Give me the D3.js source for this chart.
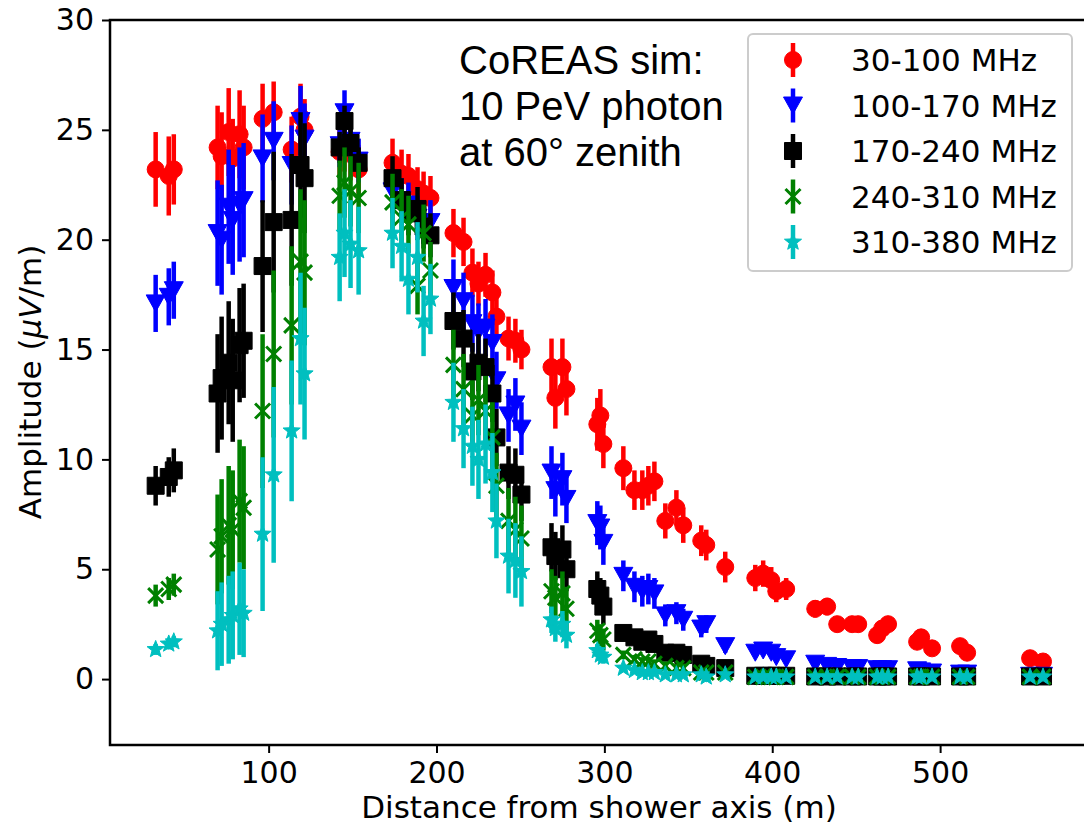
<!DOCTYPE html>
<html>
<head>
<meta charset="utf-8">
<script src="https://cdn.jsdelivr.net/npm/d3@7"></script>
<style>
body { margin: 0; background: #fff; }
svg { display: block; }
</style>
</head>
<body>
<div id="chart"></div>
<script>
// antenna distances from the shower axis (m), shared by all bands
var distances = [
    32.7, 40.5, 43.5,
    69.6, 72.0, 76.2, 78.6, 82.7, 85.1,
    96.4, 103.0, 113.7, 119.0, 121.4,
    142.3, 145.2, 148.8, 153.6,
    173.8, 179.2, 183.3, 188.7, 192.3, 196.4,
    210.1, 216.1, 221.4, 225.0, 229.2, 233.3, 235.7, 242.9, 247.0, 250.6,
    268.5, 270.8, 275.0, 277.4,
    295.8, 297.6, 299.4,
    311.3, 317.9, 322.6, 326.2, 329.8, 336.3, 342.9, 347.0, 357.7, 360.7,
    372.0,
    389.9, 394.6, 399.4, 402.4, 408.3,
    425.6, 432.7, 438.7, 447.6, 451.2, 462.5, 465.5, 469.0, 486.3, 488.7, 495.2, 511.9, 516.1, 553.6, 561.3
];

var amp30_100 = [
    23.2, 22.9, 23.2,
    24.2, 23.8, 24.9, 23.7, 24.8, 24.2,
    25.5, 25.8, 24.1, 25.6, 25.0,
    24.0, 24.2, 23.9, 23.2,
    23.5, 23.0, 22.9, 22.3, 22.1, 21.9,
    20.3, 19.9, 18.5, 18.0, 18.4, 17.6, 16.5, 15.5, 15.4, 15.0,
    14.2, 12.8, 14.2, 13.2,
    11.6, 12.0, 10.7,
    9.6, 8.6, 8.6, 8.8, 9.0, 7.2, 7.8, 7.0, 6.3, 6.1,
    5.1,
    4.6, 4.8, 4.5, 4.0, 4.1,
    3.2, 3.3, 2.5, 2.5, 2.5, 2.0, 2.3, 2.5, 1.7, 1.9, 1.4, 1.5, 1.2, 0.95, 0.8
];
var err30_100 = [
    1.7, 1.8, 1.6,
    1.9, 2.0, 2.0, 1.8, 2.0, 1.9,
    1.6, 1.4, 1.5, 1.5, 1.4,
    1.2, 1.1, 1.2, 1.1,
    1.1, 1.1, 1.0, 1.0, 1.0, 1.0,
    1.1, 1.1, 1.1, 1.0, 1.0, 1.0, 1.0, 1.0, 1.0, 0.9,
    1.3, 1.4, 1.3, 1.2,
    1.2, 1.2, 1.1,
    1.0, 0.9, 0.9, 0.9, 0.9, 0.8, 0.8, 0.8, 0.7, 0.7,
    0.7,
    0.6, 0.6, 0.6, 0.5, 0.5,
    0.4, 0.4, 0.35, 0.35, 0.35, 0.3, 0.3, 0.3, 0.25, 0.25, 0.2, 0.2, 0.2, 0.1, 0.1
];

var amp100_170 = [
    17.1, 17.4, 17.7,
    20.3, 20.0, 21.5, 20.9, 21.6, 21.8,
    23.7, 24.5, 23.4, 25.4, 24.6,
    24.3, 25.8, 24.5, 23.6,
    22.2, 21.8, 21.6, 21.0, 20.8, 20.8,
    17.8, 17.2, 16.2, 15.8, 16.0, 15.3, 13.6, 12.0, 12.5, 11.4,
    9.4, 8.6, 9.1, 8.2,
    7.1, 6.9, 6.2,
    4.7, 4.2, 4.0, 4.1, 3.9, 2.9, 3.0, 2.7, 2.3, 2.5,
    1.5,
    1.2, 1.3, 1.2, 1.0, 0.9,
    0.7, 0.6, 0.55, 0.5, 0.5, 0.45, 0.45, 0.45, 0.4, 0.35, 0.3, 0.25, 0.25, 0.15, 0.15
];
var err100_170 = [
    1.3, 1.3, 1.3,
    2.4, 2.5, 2.6, 2.5, 2.6, 2.6,
    2.0, 1.8, 1.8, 1.6, 1.6,
    1.0, 1.0, 1.0, 1.0,
    1.0, 1.0, 1.0, 1.0, 1.0, 1.0,
    1.3, 1.3, 1.3, 1.3, 1.3, 1.3, 1.3, 1.2, 1.2, 1.2,
    1.2, 1.2, 1.2, 1.1,
    1.0, 1.0, 1.0,
    0.7, 0.7, 0.7, 0.7, 0.7, 0.5, 0.5, 0.5, 0.4, 0.4,
    0.3,
    0.2, 0.2, 0.2, 0.2, 0.2,
    0.1, 0.1, 0.1, 0.1, 0.1, 0.1, 0.1, 0.1, 0.1, 0.1, 0.1, 0.1, 0.1, 0.1, 0.1
];

var amp170_240 = [
    8.8, 9.2, 9.5,
    13.0, 13.7, 14.4, 13.6, 15.2, 15.4,
    18.8, 20.8, 20.9, 23.4, 22.8,
    24.2, 25.4, 24.4, 23.5,
    22.8, 21.8, 21.2, 21.4, 20.6, 20.2,
    16.3, 15.5, 14.0, 14.4, 14.2, 13.0, 11.0, 9.4, 9.3, 8.4,
    6.0, 5.6, 5.9, 5.0,
    4.1, 3.8, 3.3,
    2.1, 1.9, 1.7, 1.8, 1.6, 1.2, 1.2, 1.1, 0.7, 0.6,
    0.5,
    0.15, 0.15, 0.15, 0.15, 0.15,
    0.12, 0.12, 0.12, 0.12, 0.12, 0.12, 0.12, 0.12, 0.12, 0.12, 0.12, 0.12, 0.12, 0.12, 0.12
];
var err170_240 = [
    0.9, 0.9, 1.0,
    2.7, 2.8, 2.8, 2.8, 2.6, 2.6,
    3.0, 3.2, 3.0, 2.4, 2.5,
    0.7, 0.7, 0.7, 0.7,
    1.0, 1.0, 1.0, 1.0, 1.0, 1.0,
    1.3, 1.3, 1.3, 1.3, 1.3, 1.3, 1.3, 1.2, 1.2, 1.2,
    1.1, 1.1, 1.1, 1.0,
    0.8, 0.8, 0.8,
    0.3, 0.3, 0.3, 0.3, 0.3, 0.3, 0.3, 0.3, 0.2, 0.2,
    0.1,
    0.05, 0.05, 0.05, 0.05, 0.05,
    0.05, 0.05, 0.05, 0.05, 0.05, 0.05, 0.05, 0.05, 0.05, 0.05, 0.05, 0.05, 0.05, 0.05, 0.05
];

var amp240_310 = [
    3.8, 4.1, 4.3,
    5.9, 6.5, 7.0, 6.8, 8.1, 7.8,
    12.2, 14.8, 16.1, 19.0, 18.5,
    22.0, 22.6, 22.2, 21.9,
    21.7, 21.0, 20.7, 17.9, 20.3, 18.6,
    14.3, 13.2, 12.0, 12.7, 12.2, 11.0, 8.8, 7.2, 6.8, 6.4,
    4.0, 3.7, 3.9, 3.2,
    2.2, 2.0, 1.8,
    1.1, 0.9, 0.8, 0.8, 0.7, 0.6, 0.5, 0.5, 0.3, 0.3,
    0.3,
    0.1, 0.1, 0.1, 0.1, 0.1,
    0.1, 0.1, 0.1, 0.1, 0.1, 0.1, 0.1, 0.1, 0.1, 0.1, 0.1, 0.1, 0.1, 0.1, 0.1
];
var err240_310 = [
    0.5, 0.5, 0.5,
    2.5, 2.6, 2.7, 2.7, 2.8, 2.8,
    3.5, 3.8, 3.6, 3.3, 3.3,
    1.6, 1.6, 1.6, 1.6,
    1.3, 1.3, 1.3, 1.3, 1.3, 1.3,
    1.6, 1.6, 1.6, 1.6, 1.6, 1.6, 1.5, 1.5, 1.5, 1.5,
    1.0, 1.0, 1.0, 1.0,
    0.5, 0.5, 0.5,
    0.2, 0.2, 0.2, 0.2, 0.2, 0.2, 0.2, 0.2, 0.1, 0.1,
    0.1,
    0.05, 0.05, 0.05, 0.05, 0.05,
    0.05, 0.05, 0.05, 0.05, 0.05, 0.05, 0.05, 0.05, 0.05, 0.05, 0.05, 0.05, 0.05, 0.05, 0.05
];

var amp310_380 = [
    1.35, 1.6, 1.7,
    2.2, 2.5, 2.7, 2.9, 3.2, 3.0,
    6.6, 9.3, 11.3, 15.5, 13.9,
    19.2, 20.3, 19.8, 19.5,
    20.3, 19.7, 18.2, 19.2, 16.3, 17.3,
    12.6, 11.4, 10.6, 10.0, 10.7, 9.4, 7.2, 5.6, 5.4, 4.9,
    2.7, 2.3, 2.5, 2.0,
    1.3, 1.1, 1.0,
    0.5, 0.4, 0.3, 0.3, 0.3, 0.2, 0.2, 0.2, 0.2, 0.1,
    0.2,
    0.1, 0.1, 0.1, 0.1, 0.1,
    0.1, 0.1, 0.1, 0.1, 0.1, 0.1, 0.1, 0.1, 0.1, 0.1, 0.1, 0.1, 0.1, 0.1, 0.1
];
var err310_380 = [
    0.25, 0.25, 0.25,
    1.8, 1.9, 2.0, 2.0, 2.1, 2.0,
    3.5, 4.0, 3.2, 3.0, 3.0,
    2.0, 2.0, 2.0, 2.0,
    1.6, 1.6, 1.6, 1.6, 1.6, 1.6,
    1.8, 1.8, 1.8, 1.8, 1.8, 1.8, 1.7, 1.7, 1.7, 1.6,
    0.6, 0.6, 0.6, 0.6,
    0.3, 0.3, 0.3,
    0.1, 0.1, 0.1, 0.1, 0.1, 0.1, 0.1, 0.1, 0.1, 0.1,
    0.05,
    0.05, 0.05, 0.05, 0.05, 0.05,
    0.05, 0.05, 0.05, 0.05, 0.05, 0.05, 0.05, 0.05, 0.05, 0.05, 0.05, 0.05, 0.05, 0.05, 0.05
];

var bandLabels = ["30-100 MHz", "100-170 MHz", "170-240 MHz", "240-310 MHz", "310-380 MHz"];
var xTicks = [100, 200, 300, 400, 500];
var yTicks = [0, 5, 10, 15, 20, 25, 30];
var noteLines = ["CoREAS sim:", "10 PeV photon", "at 60\u00b0 zenith"];

var W = 1084, H = 825;
var plot = { left: 110, top: 20, right: 1087, bottom: 745 };

var series = [
    { label: bandLabels[0], values: amp30_100, errors: err30_100, color: "#ff0000", marker: "circle" },
    { label: bandLabels[1], values: amp100_170, errors: err100_170, color: "#0000ff", marker: "triDown" },
    { label: bandLabels[2], values: amp170_240, errors: err170_240, color: "#000000", marker: "square" },
    { label: bandLabels[3], values: amp240_310, errors: err240_310, color: "#008000", marker: "cross" },
    { label: bandLabels[4], values: amp310_380, errors: err310_380, color: "#00bfbf", marker: "star" }
];

var svg = d3.select("#chart").append("svg")
    .attr("width", W)
    .attr("height", H);

var x = d3.scaleLinear().domain([5.5, 587.5]).range([plot.left, plot.right]);
var y = d3.scaleLinear().domain([-3, 30]).range([plot.bottom, plot.top]);

function starPath(ro, ri) {
    var pts = [];
    for (var i = 0; i < 10; i++) {
        var r = i % 2 === 0 ? ro : ri;
        var a = -Math.PI / 2 + i * Math.PI / 5;
        pts.push([r * Math.cos(a), r * Math.sin(a)]);
    }
    return "M" + pts.map(function (p) { return p[0].toFixed(2) + "," + p[1].toFixed(2); }).join("L") + "Z";
}

var markerPaths = {
    circle: d3.symbol().type(d3.symbolCircle).size(Math.PI * 8.5 * 8.5)(),
    square: "M-8.5,-8.5H8.5V8.5H-8.5Z",
    triDown: "M-9.5,-8.5L9.5,-8.5L0,8.5Z",
    cross: "M-7.5,-7.5L7.5,7.5M-7.5,7.5L7.5,-7.5",
    star: starPath(9, 3.8)
};

function drawMarker(g, s) {
    var p = g.append("path").attr("d", markerPaths[s.marker]);
    if (s.marker === "cross") {
        p.attr("fill", "none").attr("stroke", s.color).attr("stroke-width", 3);
    } else {
        p.attr("fill", s.color).attr("stroke", s.color).attr("stroke-width", 1);
    }
    return p;
}

// data: error bars first, markers on top, band by band
var dataLayer = svg.append("g");
series.forEach(function (s) {
    var g = dataLayer.append("g");
    var rows = distances.map(function (d, i) { return { d: d, v: s.values[i], e: s.errors[i] }; });
    g.selectAll("line.err").data(rows).enter().append("line")
        .attr("class", "err")
        .attr("x1", function (r) { return x(r.d); })
        .attr("x2", function (r) { return x(r.d); })
        .attr("y1", function (r) { return y(r.v - r.e); })
        .attr("y2", function (r) { return y(r.v + r.e); })
        .attr("stroke", s.color)
        .attr("stroke-width", 4.5);
    g.selectAll("g.mk").data(rows).enter().append("g")
        .attr("class", "mk")
        .attr("transform", function (r) { return "translate(" + x(r.d) + "," + y(r.v) + ")"; })
        .each(function () { drawMarker(d3.select(this), s); });
});

// axes
var xAxis = d3.axisBottom(x).tickValues(xTicks).tickSize(8).tickPadding(9).tickFormat(d3.format("d"));
var yAxis = d3.axisLeft(y).tickValues(yTicks).tickSize(8).tickPadding(8).tickFormat(d3.format("d"));

var gx = svg.append("g").attr("transform", "translate(0," + plot.bottom + ")").call(xAxis);
var gy = svg.append("g").attr("transform", "translate(" + plot.left + ",0)").call(yAxis);
[gx, gy].forEach(function (g) {
    g.select(".domain").remove();
    g.selectAll(".tick line").attr("stroke", "#000").attr("stroke-width", 2);
    g.selectAll(".tick text")
        .attr("fill", "#000")
        .style("font-family", "'DejaVu Sans'")
        .style("font-size", "30px");
});

svg.append("path")
    .attr("d", "M" + plot.left + "," + plot.top + "V" + plot.bottom + "H" + plot.right + "V" + plot.top + "Z")
    .attr("fill", "none")
    .attr("stroke", "#000")
    .attr("stroke-width", 2.5);

svg.append("text")
    .attr("x", 599)
    .attr("y", 818)
    .attr("text-anchor", "middle")
    .style("font-family", "'DejaVu Sans'")
    .style("font-size", "31px")
    .text("Distance from shower axis (m)");

var yl = svg.append("text")
    .attr("transform", "translate(41,382) rotate(-90)")
    .attr("text-anchor", "middle")
    .style("font-family", "'DejaVu Sans'")
    .style("font-size", "31px");
yl.append("tspan").text("Amplitude (");
yl.append("tspan").style("font-style", "italic").text("\u03bcV");
yl.append("tspan").text("/m)");

// annotation
svg.append("g").selectAll("text").data(noteLines).enter().append("text")
    .attr("x", 459)
    .attr("y", function (d, i) { return 74 + i * 46; })
    .style("font-family", "'Liberation Sans', Arial, sans-serif")
    .style("font-size", "40px")
    .attr("fill", "#000")
    .text(function (d) { return d; });

// legend
var legend = svg.append("g");
legend.append("rect")
    .attr("x", 748).attr("y", 34)
    .attr("width", 324).attr("height", 237)
    .attr("rx", 5)
    .attr("fill", "#fff")
    .attr("fill-opacity", 0.8)
    .attr("stroke", "#cccccc")
    .attr("stroke-width", 2);
var items = legend.selectAll("g.item").data(series).enter().append("g")
    .attr("class", "item")
    .attr("transform", function (d, i) { return "translate(793," + (60 + i * 45.5) + ")"; });
items.append("line")
    .attr("y1", -17).attr("y2", 17)
    .attr("stroke", function (d) { return d.color; })
    .attr("stroke-width", 4.5);
items.each(function (s) { drawMarker(d3.select(this), s); });
items.append("text")
    .attr("x", 58)
    .attr("y", 11)
    .style("font-family", "'DejaVu Sans'")
    .style("font-size", "31px")
    .text(function (d) { return d.label; });
</script>
</body>
</html>
